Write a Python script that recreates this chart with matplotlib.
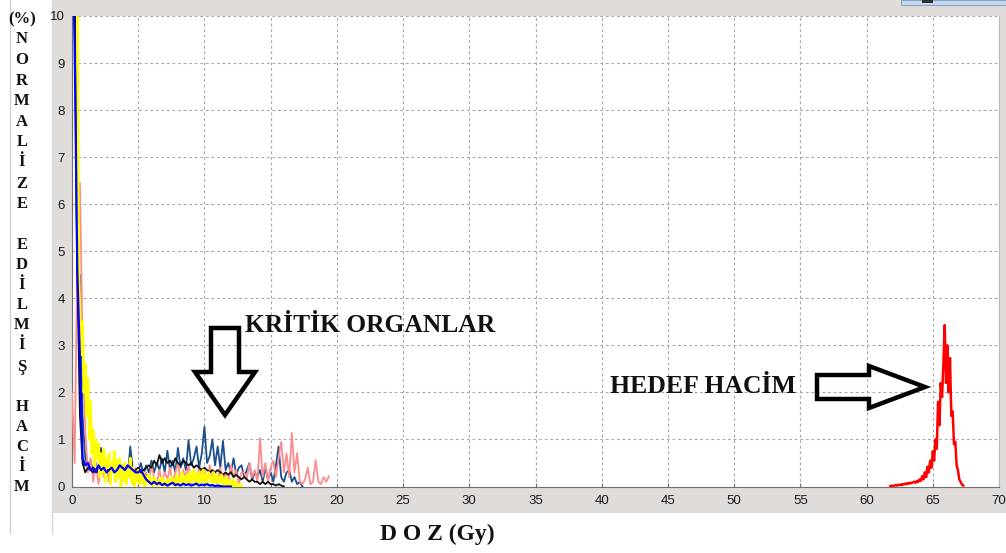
import numpy as np
import matplotlib
matplotlib.use("Agg")
import matplotlib.pyplot as plt
from matplotlib.patches import Polygon, Rectangle
from matplotlib.lines import Line2D

# ---------------- data ----------------
x_ticks = list(range(0, 75, 5))
y_ticks = list(range(0, 11))

# dose bins (Gy)
step_fine = 0.1
step_coarse = 0.2

yellow_vals = [15, 14, 13, 12, 11, 4.6, 3.8, 2.8, 3.5, 2.0, 2.6, 1.5, 2.3, 1.0, 1.8, 0.7, 1.2, 0.4, 1.0, 0.6,
               0.9, 0.2, 0.7, 0.3, 0.8, 0.1, 0.6, 0.4, 0.7, 0.05, 0.5, 0.3, 0.75, 0.1, 0.55, 0.2, 0.6, 0.0, 0.45, 0.15,
               0.5, 0.05, 0.35, 0.2, 0.6, 0.1, 0.4, 0.0, 0.3, 0.1, 0.35, 0.05, 0.25, 0.1, 0.3, 0.0, 0.2, 0.1, 0.25, 0.05,
               0.15, 0.0, 0.2, 0.05, 0.1, 0.0, 0.15, 0.05, 0.2, 0.0, 0.1, 0.05, 0.15, 0.0, 0.1, 0.2, 0.05, 0.15, 0.0, 0.25,
               0.05, 0.2, 0.1, 0.3, 0.05, 0.2, 0.1, 0.25, 0.05, 0.3, 0.1, 0.2, 0.35, 0.05, 0.25, 0.1, 0.3, 0.05, 0.2, 0.35,
               0.1, 0.25, 0.05, 0.3, 0.15, 0.2, 0.05, 0.3, 0.1, 0.25, 0.05, 0.2, 0.1, 0.25, 0.0, 0.15, 0.05, 0.2, 0.0, 0.1,
               0.05, 0.15, 0.0, 0.1, 0.0, 0.05, 0.0, 0.05, 0.0]

pink_vals = [2.0, 0.5, 5.0, 6.45, 3.0, 1.2, 0.3, 0.6, 0.1, 0.5, 0.05, 0.4, 0.2, 0.55, 0.1, 0.3, 0.65, 0.2, 0.5, 0.1,
             0.45, 0.25, 0.6, 0.05, 0.4, 0.2, 0.35, 0.05, 0.3, 0.1, 0.45, 0.2, 0.05, 0.35, 0.1, 0.3, 0.15, 0.4, 0.05, 0.3,
             0.5, 0.1, 0.35, 0.2, 0.45, 0.05, 0.3, 0.15, 0.4, 0.25, 0.35, 0.1, 0.45, 0.2, 0.3, 0.05, 0.4, 0.15, 0.3, 0.1,
             0.45, 0.2, 0.35, 0.05, 0.3, 0.3, 0.15, 0.5, 0.2, 0.35, 0.1, 1.03, 0.2, 0.5, 0.1, 0.4, 0.55, 0.2, 0.6, 0.95,
             0.3, 0.7, 0.2, 1.14, 0.3, 0.71, 0.1, 0.05, 0.15, 0.4, 0.05, 0.1, 0.56, 0.1, 0.05, 0.2, 0.1, 0.22]

blue_vals = [12, 9.4, 4.6, 2.7, 0.6, 0.45, 0.5, 0.35, 0.4, 0.3, 0.45, 0.35, 0.4, 0.3, 0.35, 0.4, 0.3, 0.35, 0.45, 0.4,
             0.35, 0.45, 0.4, 0.35, 0.3, 0.3, 0.35, 0.25, 0.15, 0.1, 0.05, 0.1, 0.05, 0.08, 0.03, 0.06, 0.02, 0.05, 0.08, 0.03,
             0.05, 0.02, 0.06, 0.03, 0.05, 0.02, 0.04, 0.06, 0.02, 0.04, 0.03, 0.05, 0.02, 0.03, 0.01, 0.02, 0.01, 0.0, 0.0, 0.0, 0.0]

black_vals = [12, 11, 4.5, 1.5, 0.5, 0.3, 0.4, 0.35, 0.3, 0.4, 0.3, 0.35, 0.3, 0.4, 0.35, 0.3, 0.4, 0.35, 0.3, 0.35,
              0.4, 0.3, 0.35, 0.3, 0.35, 0.4, 0.3, 0.35, 0.4, 0.45, 0.4, 0.55, 0.45, 0.67, 0.5, 0.6, 0.5, 0.55, 0.45, 0.6,
              0.5, 0.45, 0.55, 0.5, 0.45, 0.5, 0.4, 0.45, 0.4, 0.35, 0.4, 0.35, 0.3, 0.35, 0.3, 0.35, 0.3, 0.25, 0.3, 0.25,
              0.3, 0.2, 0.25, 0.2, 0.15, 0.2, 0.15, 0.1, 0.15, 0.1, 0.1, 0.05, 0.1, 0.05, 0.1, 0.05, 0.05, 0.02, 0.05, 0.02, 0.0]

darkblue_vals = [11, 10.5, 4.1, 4.5, 1.5, 0.6, 0.4, 0.55, 0.3, 0.5, 0.25, 0.82, 0.3, 0.45, 0.2, 0.4, 0.55, 0.3, 0.5, 0.25,
                 0.45, 0.2, 0.85, 0.35, 0.3, 0.3, 0.5, 0.25, 0.45, 0.3, 0.55, 0.3, 0.5, 0.35, 0.6, 0.3, 0.76, 0.35, 0.55, 0.3,
                 0.82, 0.4, 0.6, 0.35, 0.99, 0.45, 0.6, 0.85, 0.4, 0.7, 1.27, 0.5, 0.65, 1.0, 0.45, 0.85, 0.4, 0.97, 0.35, 0.5,
                 0.3, 0.6, 0.25, 0.4, 0.45, 0.2, 0.35, 0.5, 0.15, 0.3, 0.2, 0.35, 0.1, 0.4, 0.15, 0.3, 0.1, 0.45, 0.85, 0.2,
                 0.1, 0.3, 0.35, 0.1, 0.2, 0.05, 0.1, 0.0]

red_start = 61.8
red_vals = [0.01, 0.02, 0.01, 0.02, 0.03, 0.02, 0.03, 0.04, 0.03, 0.05, 0.04, 0.06, 0.05, 0.07, 0.06, 0.08, 0.07, 0.09,
            0.1, 0.08, 0.12, 0.1, 0.15, 0.12, 0.22, 0.15, 0.3, 0.2, 0.42, 0.3, 0.55, 0.4, 0.75, 0.55, 1.0, 0.8, 1.8,
            1.3, 2.2, 1.9, 2.6, 3.43, 2.2, 3.0, 2.0, 2.73, 1.5, 1.6, 0.9, 0.95, 0.45, 0.35, 0.15, 0.1, 0.04, 0.02]

y_letters = ["(%)", "N", "O", "R", "M", "A", "L", "İ", "Z", "E",
             "E", "D", "İ", "L", "M", "İ", "Ş",
             "H", "A", "C", "İ", "M"]
y_letter_px = [17, 37, 58, 79, 99, 120, 140, 160, 182, 202,
               243, 263, 283, 303, 323, 343, 365,
               405, 425, 445, 465, 485]

W, H = 1006, 553
GRAY = "#e0dcd9"

fig = plt.figure(figsize=(W / 100, H / 100), dpi=100, facecolor=GRAY)


def fx(px):
    return px / W


def fy(py):
    return 1 - py / H


# white areas
fig.patches.append(Rectangle((0, 0), fx(52), 1, transform=fig.transFigure, facecolor="white",
                             edgecolor="none", zorder=-2))
fig.patches.append(Rectangle((0, 0), 1, fy(513), transform=fig.transFigure, facecolor="white",
                             edgecolor="none", zorder=-2))
fig.lines.append(Line2D([fx(10), fx(10)], [fy(533), 1], transform=fig.transFigure, color="#cfcfcf", lw=1,
                        zorder=-1))
fig.lines.append(Line2D([fx(52), fx(52)], [fy(533), 1], transform=fig.transFigure, color="#d8d8d8", lw=1,
                        zorder=-1))
# top right window element
fig.patches.append(Rectangle((fx(901), fy(5)), fx(105), 1 - fy(5), transform=fig.transFigure,
                             facecolor="#c6d9ef", edgecolor="#8aa4c4", lw=0.8))
fig.patches.append(Rectangle((fx(922), fy(3)), fx(11), 1 - fy(3), transform=fig.transFigure,
                             facecolor="#333333", edgecolor="none"))

ax = fig.add_axes([fx(72), fy(486.5), fx(999) - fx(72), fy(16) - fy(486.5)])
ax.set_facecolor("white")

lw = 1.3
d_pink = np.arange(len(pink_vals)) * step_coarse
d_dark = np.arange(len(darkblue_vals)) * step_coarse
d_black = np.arange(len(black_vals)) * step_coarse
d_blue = np.arange(len(blue_vals)) * step_coarse
d_yellow = np.arange(len(yellow_vals)) * step_fine
d_red = red_start + np.arange(len(red_vals)) * step_fine

ax.plot(d_dark, darkblue_vals, color="#1b4f8c", lw=lw, zorder=3)
ax.plot(d_pink, pink_vals, color="#ff8c8c", lw=lw, zorder=4)
ax.plot(d_black, black_vals, color="#111111", lw=lw, zorder=5)
ax.plot(d_yellow, yellow_vals, color="#ffff00", lw=lw + 0.6, zorder=6)
ax.plot(d_blue, blue_vals, color="#0000ff", lw=lw + 0.3, zorder=7)
ax.plot(d_red, red_vals, color="#ff0000", lw=lw + 0.5, zorder=5)

ax.set_xlim(0, 70)
ax.set_ylim(0, 10)
ax.set_xticks(x_ticks)
ax.set_yticks(y_ticks)
ax.grid(True, linestyle=(0, (2.5, 2.5)), color="#a8a8a8", lw=0.8, zorder=1)
ax.set_axisbelow(True)
for s in ("left", "bottom"):
    ax.spines[s].set_color("#707070")
ax.spines["top"].set_visible(False)
ax.spines["right"].set_color("#b8b8b8")
ax.tick_params(axis="x", direction="in", length=3, color="#707070", pad=6,
               labelsize=9.5, labelcolor="#1a1a1a")
ax.tick_params(axis="y", length=0, pad=5, labelsize=9.5, labelcolor="#1a1a1a")
for lab in ax.get_xticklabels() + ax.get_yticklabels():
    lab.set_family("Liberation Sans")

serif = "Liberation Serif"
for letter, py in zip(y_letters, y_letter_px):
    fig.text(fx(22), fy(py + 6), letter, ha="center", va="baseline", family=serif,
             weight="bold", fontsize=12, color="#111111")

fig.text(fx(245), fy(332), "KRİTİK ORGANLAR", ha="left", va="baseline", family=serif,
         weight="bold", fontsize=18.4, color="#111111")
fig.text(fx(610), fy(393), "HEDEF HACİM", ha="left", va="baseline", family=serif,
         weight="bold", fontsize=18.5, color="#111111")
fig.text(fx(380), fy(540), "D O Z (Gy)", ha="left", va="baseline", family=serif,
         weight="bold", fontsize=17, color="#111111")

down_arrow = [(211, 328), (239, 328), (239, 372), (255, 372), (225, 415), (195, 372), (211, 372)]
right_arrow = [(817, 375), (869, 375), (869, 366), (925, 387), (869, 408), (869, 399), (817, 399)]
for poly in (down_arrow, right_arrow):
    pts = [(fx(a), fy(b)) for a, b in poly]
    fig.patches.append(Polygon(pts, closed=True, transform=fig.transFigure, facecolor="none",
                               edgecolor="black", lw=3.2, joinstyle="miter", zorder=10))

fig.savefig("out.png", dpi=100, facecolor=GRAY)
